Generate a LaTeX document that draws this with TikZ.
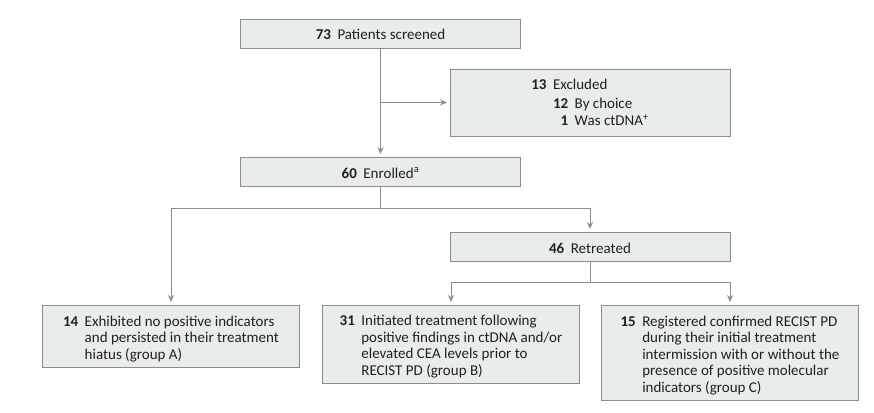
\documentclass[tikz,border=0pt]{standalone}
\usepackage{fontspec}
\setmainfont{Carlito}
\usepackage{xcolor}
\usetikzlibrary{positioning, arrows.meta}
\definecolor{boxfill}{HTML}{E8ECEB}
\definecolor{boxline}{HTML}{8C8C8C}
\definecolor{textdark}{HTML}{231F20}
\newcommand{\flowtext}[2]{\raisebox{-3.2pt}[\height][\depth]{\begin{tabular}{@{}r@{\hspace{6.5pt}}l@{}}\textbf{#1} & #2\end{tabular}}}
\begin{document}
\begin{tikzpicture}[x=1pt, y=-1pt, >={Stealth[length=7pt, width=6pt]}, line width=0.9pt]
        \tikzset{
            flowbox/.style={draw=boxline, fill=boxfill, rectangle, inner sep=0pt, align=left, text=textdark, font=\fontsize{15}{16.5}\selectfont},
            wide/.style={flowbox, minimum width=280pt, minimum height=29pt},
            narrow/.style={flowbox, minimum width=257pt},
            link/.style={draw=boxline, shorten >=2.5pt}
        }
        \useasboundingbox (0,0) rectangle (874,412);

        % Boxes in the main column
        \node[wide] (screened) at (380.5,33.5) {\flowtext{73}{Patients screened}};
        \node[wide, minimum height=67pt] (excluded) at (590,102.5) {\raisebox{-1.5pt}[\height][\depth]{\begin{tabular}{@{}r@{\hspace{6.5pt}}l@{}}\textbf{13} & Excluded\\[2.5pt] & \begin{tabular}[t]{@{}r@{\hspace{6.5pt}}l@{}}\textbf{12} & By choice\\[0.5pt] \textbf{1} & Was ctDNA\textsuperscript{+}\end{tabular}\end{tabular}}};
        \node[wide] (enrolled) at (380.5,171.5) {\flowtext{60}{Enrolled\textsuperscript{a}}};
        \node[wide] (retreated) at (590,246.5) {\flowtext{46}{Retreated}};

        % Outcome groups
        \node[narrow, minimum height=62pt] (groupA) at (171,336) {\flowtext{14}{Exhibited no positive indicators\\ & and persisted in their treatment\\ & hiatus (group A)}};
        \node[narrow, minimum height=78pt] (groupB) at (451,344) {\flowtext{31}{Initiated treatment following\\ & positive findings in ctDNA and/or\\ & elevated CEA levels prior to\\ & RECIST PD (group B)}};
        \node[narrow, minimum height=95pt] (groupC) at (730,352.5) {\flowtext{15}{Registered confirmed RECIST PD\\ & during their initial treatment\\ & intermission with or without the\\ & presence of positive molecular\\ & indicators (group C)}};

        % Junction points on the trunk lines
        \coordinate (exclsplit) at (screened.south |- excluded.west);
        \coordinate (enrolsplit) at ([yshift=-22pt]enrolled.south);
        \coordinate (retreatsplit) at ([yshift=-21pt]retreated.south);

        % Connectors
        \draw[->, link] (screened.south) -- (enrolled.north);
        \draw[->, link] (exclsplit) -- (excluded.west);
        \draw[draw=boxline] (enrolled.south) -- (enrolsplit);
        \draw[->, link] (enrolsplit) -| (groupA.north);
        \draw[->, link] (enrolsplit) -| (retreated.north);
        \draw[draw=boxline] (retreated.south) -- (retreatsplit);
        \draw[->, link] (retreatsplit) -| (groupB.north);
        \draw[->, link] (retreatsplit) -| (groupC.north);
    \end{tikzpicture}
\end{document}
